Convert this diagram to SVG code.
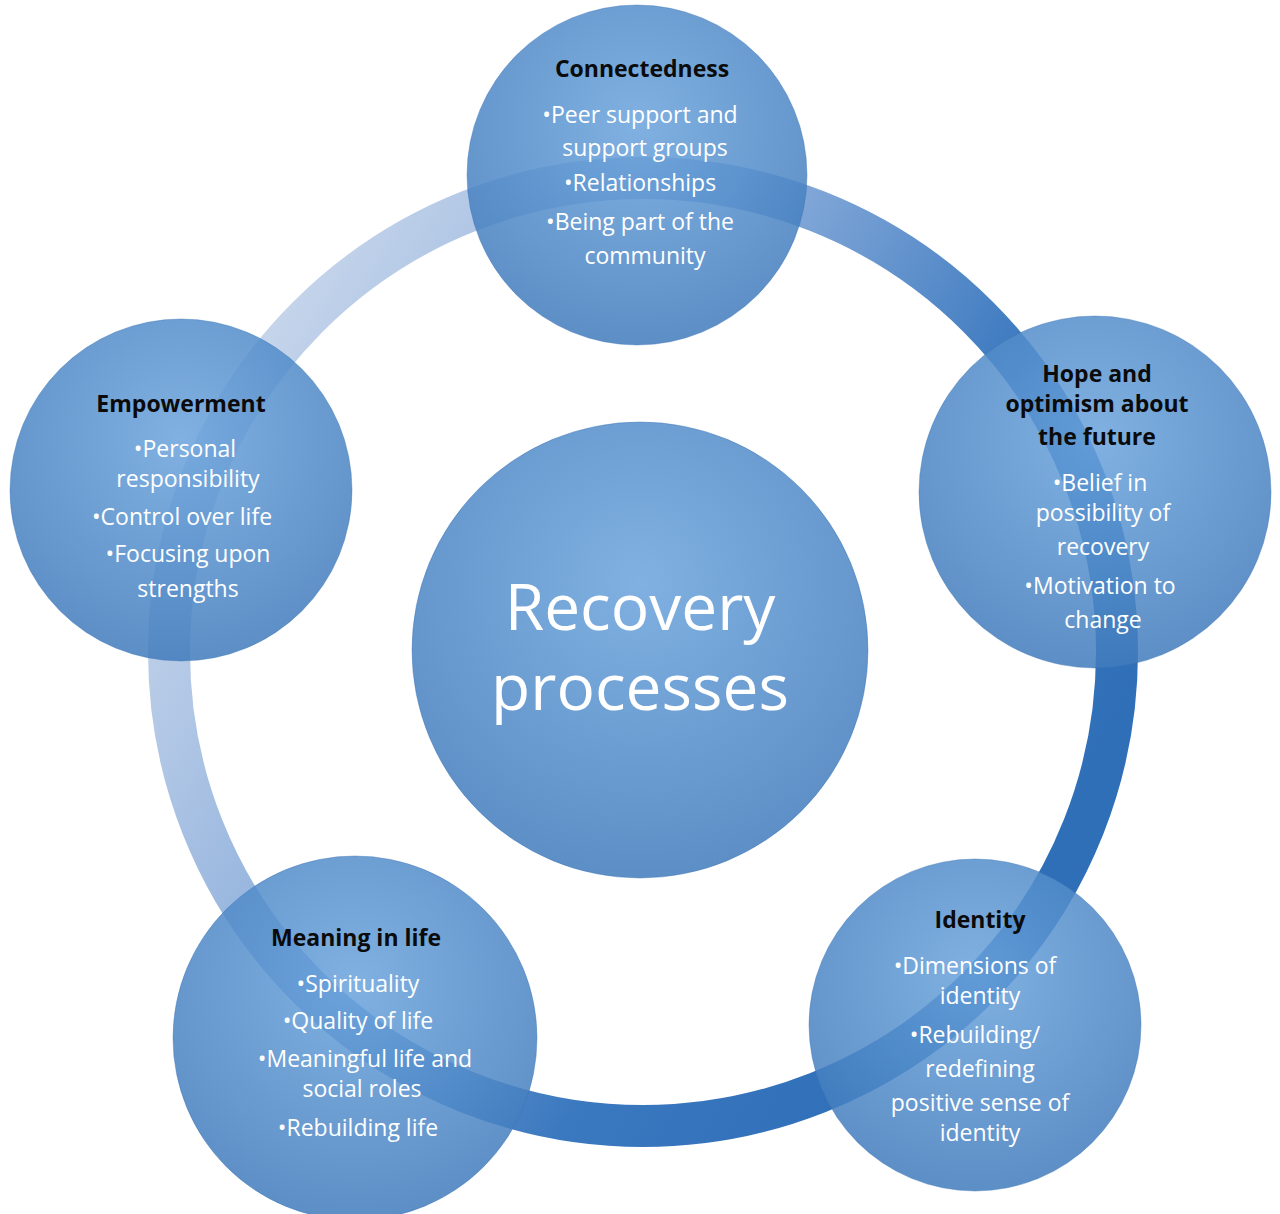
<svg xmlns="http://www.w3.org/2000/svg" width="1280" height="1214" viewBox="0 0 1280 1214">
<defs>
<linearGradient id="ring" x1="0" y1="0" x2="1" y2="0.6">
<stop offset="0" stop-color="#dfe6f2"/><stop offset="0.45" stop-color="#8fb0dc"/><stop offset="0.75" stop-color="#3a78bf"/><stop offset="1" stop-color="#2f6fb8"/>
</linearGradient>
<radialGradient id="ball" cx="0.5" cy="0.35" r="0.7">
<stop offset="0" stop-color="#6aa3dc"/><stop offset="1" stop-color="#3d78ba"/>
</radialGradient>
<style>
.n{fill:url(#ball);fill-opacity:0.85;stroke:#3a73b3;stroke-opacity:0.4;stroke-width:1}
.t{font-family:"Open Sans","Liberation Sans",sans-serif;font-size:23px;font-weight:bold;fill:#0b0b0b;text-anchor:middle}
.b{font-family:"Open Sans","Liberation Sans",sans-serif;font-size:23px;fill:#ffffff;text-anchor:middle}
</style>
</defs>
<rect width="1280" height="1214" fill="#fff"/>
<g id="connectors">
<circle cx="643" cy="652" r="474" fill="none" stroke="url(#ring)" stroke-width="42"/>
</g>
<g id="center"><circle cx="640" cy="650" r="228" class="n"/>
<text class="b" x="640" y="630" style="font-size:64px">Recovery</text>
<text class="b" x="640" y="710" style="font-size:64px">processes</text></g>
<g id="connectedness"><circle cx="637" cy="175" r="170" class="n"/>
<text class="t" x="642" y="77">Connectedness</text>
<text class="b" x="640" y="123">•Peer support and</text>
<text class="b" x="645" y="156">support groups</text>
<text class="b" x="640" y="191">•Relationships</text>
<text class="b" x="640" y="230">•Being part of the</text>
<text class="b" x="645" y="264">community</text></g>
<g id="hope"><circle cx="1095" cy="492" r="176" class="n"/>
<text class="t" x="1097" y="382">Hope and</text>
<text class="t" x="1097" y="412">optimism about</text>
<text class="t" x="1097" y="445">the future</text>
<text class="b" x="1100" y="491">•Belief in</text>
<text class="b" x="1103" y="521">possibility of</text>
<text class="b" x="1103" y="555">recovery</text>
<text class="b" x="1100" y="594">•Motivation to</text>
<text class="b" x="1103" y="628">change</text></g>
<g id="empowerment"><circle cx="181" cy="490" r="171" class="n"/>
<text class="t" x="181" y="412">Empowerment</text>
<text class="b" x="185" y="457">•Personal</text>
<text class="b" x="188" y="487">responsibility</text>
<text class="b" x="182" y="525">•Control over life</text>
<text class="b" x="188" y="562">•Focusing upon</text>
<text class="b" x="188" y="597">strengths</text></g>
<g id="meaning"><circle cx="355" cy="1038" r="182" class="n"/>
<text class="t" x="356" y="946">Meaning in life</text>
<text class="b" x="358" y="992">•Spirituality</text>
<text class="b" x="358" y="1029">•Quality of life</text>
<text class="b" x="365" y="1067">•Meaningful life and</text>
<text class="b" x="362" y="1097">social roles</text>
<text class="b" x="358" y="1136">•Rebuilding life</text></g>
<g id="identity"><circle cx="975" cy="1025" r="166" class="n"/>
<text class="t" x="980" y="928">Identity</text>
<text class="b" x="975" y="974">•Dimensions of</text>
<text class="b" x="980" y="1004">identity</text>
<text class="b" x="975" y="1043">•Rebuilding/</text>
<text class="b" x="980" y="1077">redefining</text>
<text class="b" x="980" y="1111">positive sense of</text>
<text class="b" x="980" y="1141">identity</text></g>
</svg>
